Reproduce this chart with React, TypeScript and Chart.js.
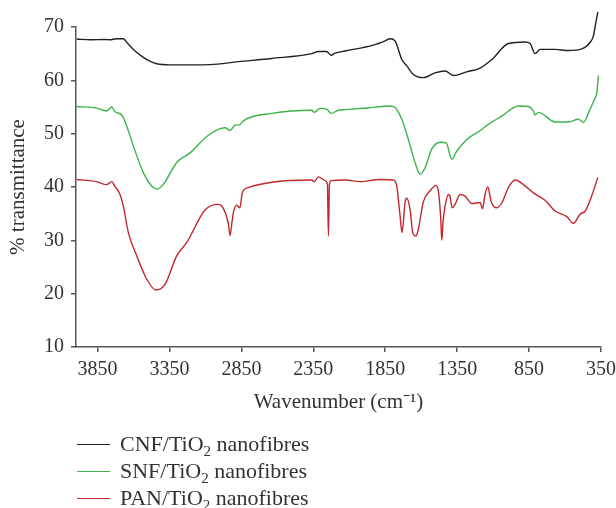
import React, { useEffect, useRef } from "react";
import { Chart, registerables } from "chart.js";
Chart.register(...registerables);

const xTicks = [3850, 3350, 2850, 2350, 1850, 1350, 850, 350];
const yTicks = [10, 20, 30, 40, 50, 60, 70];

const cnfWn = [3995, 3900, 3800, 3764, 3720, 3671, 3640, 3601, 3532, 3480, 3439, 3346, 3200, 3068, 2871, 2639, 2361, 2315, 2257, 2227, 2199, 2129, 1933, 1850, 1816, 1782, 1735, 1700, 1654, 1585, 1504, 1434, 1376, 1283, 1190, 1109, 994, 878, 843, 808, 773, 669, 577, 483, 426, 403, 386, 372];
const cnfT = [67.75, 67.6, 67.65, 67.6, 67.8, 67.8, 66.9, 65.8, 64.3, 63.5, 63.1, 62.9, 62.9, 62.95, 63.5, 64.1, 65.0, 65.4, 65.4, 64.7, 65.1, 65.5, 66.6, 67.4, 67.8, 67.4, 63.9, 62.7, 61.1, 60.5, 61.4, 61.75, 60.9, 61.6, 62.3, 63.9, 66.9, 67.2, 66.9, 65.0, 65.8, 65.8, 65.6, 65.9, 67.1, 68.3, 70.8, 72.8];

const snfWn = [3995, 3856, 3787, 3752, 3729, 3682, 3647, 3601, 3532, 3474, 3439, 3393, 3300, 3207, 3080, 2964, 2929, 2894, 2860, 2837, 2639, 2361, 2343, 2303, 2257, 2227, 2176, 2129, 1979, 1816, 1782, 1735, 1689, 1643, 1608, 1573, 1527, 1469, 1427, 1387, 1353, 1283, 1190, 1133, 1040, 924, 855, 820, 808, 785, 669, 577, 507, 472, 426, 396, 379, 368];
const snfT = [55.1, 54.8, 54.25, 55.0, 54.1, 53.5, 51.4, 47.7, 42.7, 40.2, 39.6, 40.5, 44.6, 46.4, 49.7, 51.1, 50.6, 51.6, 51.7, 52.4, 53.8, 54.4, 54.0, 54.75, 54.6, 53.8, 54.4, 54.5, 54.8, 55.2, 54.9, 52.7, 48.9, 44.6, 42.4, 43.6, 47.1, 48.4, 48.3, 45.2, 46.7, 48.9, 50.6, 51.75, 53.3, 55.2, 55.1, 54.25, 53.5, 54.0, 52.2, 52.2, 52.7, 52.1, 54.6, 56.4, 57.7, 60.9];

const panWn = [3995, 3856, 3787, 3752, 3729, 3694, 3671, 3636, 3578, 3508, 3444, 3381, 3300, 3230, 3103, 3010, 2976, 2940, 2929, 2915, 2906, 2883, 2860, 2844, 2802, 2639, 2361, 2343, 2315, 2268, 2252, 2245, 2238, 2227, 2129, 2025, 1886, 1793, 1770, 1747, 1733, 1712, 1700, 1677, 1659, 1636, 1620, 1585, 1538, 1497, 1480, 1464, 1457, 1448, 1434, 1411, 1400, 1385, 1364, 1330, 1295, 1248, 1190, 1174, 1156, 1137, 1114, 1075, 1040, 994, 947, 878, 820, 739, 669, 588, 542, 495, 460, 414, 372];
const panT = [41.4, 41.0, 40.45, 41.0, 40.1, 38.6, 36.4, 31.45, 27.1, 22.7, 20.7, 21.75, 27.1, 29.6, 35.7, 36.75, 36.0, 33.0, 30.9, 33.5, 35.2, 36.6, 36.1, 38.9, 39.9, 40.9, 41.3, 41.0, 41.9, 41.2, 40.5, 30.8, 40.5, 41.2, 41.3, 41.0, 41.4, 41.3, 40.2, 34.6, 31.45, 37.2, 37.9, 35.7, 31.45, 30.8, 32.1, 37.2, 39.3, 40.3, 39.1, 34.0, 30.0, 33.5, 36.4, 38.6, 38.3, 36.1, 36.75, 38.6, 38.3, 36.9, 37.1, 35.9, 38.6, 40.0, 37.3, 36.1, 37.0, 39.9, 41.3, 40.2, 38.9, 37.5, 35.5, 34.45, 33.2, 34.9, 35.5, 38.4, 41.8];

const seriesNames = ["CNF/TiO", "SNF/TiO", "PAN/TiO"];
const seriesColors = ["#231f20", "#3ab54a", "#c1272d"];

const zip = (xs: number[], ys: number[]) => xs.map((x, i) => ({ x, y: ys[i] }));

export default function App() {
  const ref = useRef<HTMLCanvasElement | null>(null);
  useEffect(() => {
    const serif = "'Liberation Serif', 'Times New Roman', serif";
    const sets = [zip(cnfWn, cnfT), zip(snfWn, snfT), zip(panWn, panT)];
    const chart = new Chart(ref.current as HTMLCanvasElement, {
      type: "line",
      data: {
        datasets: sets.map((d, i) => ({
          label: seriesNames[i] + "₂ nanofibres",
          data: d,
          borderColor: seriesColors[i],
          backgroundColor: seriesColors[i],
          borderWidth: 1.4,
          pointRadius: 0,
          cubicInterpolationMode: "monotone" as const,
          clip: false as any,
          fill: false,
        })),
      },
      options: {
        animation: false,
        responsive: false,
        layout: { padding: { top: 27, right: 15, left: 0, bottom: 0 } },
        plugins: { legend: { display: false }, tooltip: { enabled: false } },
        scales: {
          x: {
            type: "linear",
            reverse: true,
            min: 350,
            max: 4000,
            afterBuildTicks: (s: any) => {
              s.ticks = xTicks.map((v) => ({ value: v }));
            },
            afterFit: (s: any) => {
              s.height = 161;
              s.paddingRight = 0;
              s.paddingLeft = 0;
            },
            grid: { drawOnChartArea: false, drawTicks: true, tickLength: 5, color: "#555", lineWidth: 1.5 },
            border: { display: true, color: "#555", width: 1.5 },
            ticks: {
              autoSkip: false,
              maxRotation: 0,
              padding: 6,
              color: "#333",
              font: { family: serif, size: 20 },
              callback: (v: any) => String(v),
            },
            title: {
              display: true,
              text: "Wavenumber (cm⁻¹)",
              color: "#333",
              font: { family: serif, size: 21 },
              padding: { top: 0, bottom: 93 },
            },
          },
          y: {
            type: "linear",
            min: 10,
            max: 70,
            afterBuildTicks: (s: any) => {
              s.ticks = yTicks.map((v) => ({ value: v }));
            },
            afterFit: (s: any) => {
              s.width = 76;
              s.paddingTop = 0;
              s.paddingBottom = 0;
            },
            grid: { drawOnChartArea: false, drawTicks: true, tickLength: 5, color: "#555", lineWidth: 1.5 },
            border: { display: true, color: "#555", width: 1.5 },
            ticks: {
              padding: 7,
              color: "#333",
              font: { family: serif, size: 20 },
              callback: (v: any) => String(v),
            },
            title: {
              display: true,
              text: "% transmittance",
              color: "#333",
              font: { family: serif, size: 21 },
              padding: { top: 6, bottom: 0 },
            },
          },
        },
      },
    });
    return () => chart.destroy();
  }, []);

  const rowTops = [444, 471, 498];
  return (
    <div style={{ position: "fixed", left: 0, top: 0, width: 616, height: 508, background: "#fff", overflow: "hidden" }}>
      <canvas ref={ref} width={616} height={508} style={{ width: 616, height: 508, display: "block" }} />
      {seriesNames.map((n, i) => (
        <div
          key={n}
          style={{
            position: "absolute",
            left: 77,
            top: rowTops[i] - 13,
            height: 26,
            display: "flex",
            alignItems: "center",
            fontFamily: "'Liberation Serif', 'Times New Roman', serif",
            fontSize: 22,
            color: "#333",
            whiteSpace: "nowrap",
            lineHeight: "26px",
          }}
        >
          <span style={{ display: "inline-block", width: 33, height: 0, borderTop: `1.5px solid ${seriesColors[i]}`, marginRight: 10 }} />
          <span>
            {n}
            <sub style={{ fontSize: 15, lineHeight: 0 }}>2</sub> nanofibres
          </span>
        </div>
      ))}
    </div>
  );
}
